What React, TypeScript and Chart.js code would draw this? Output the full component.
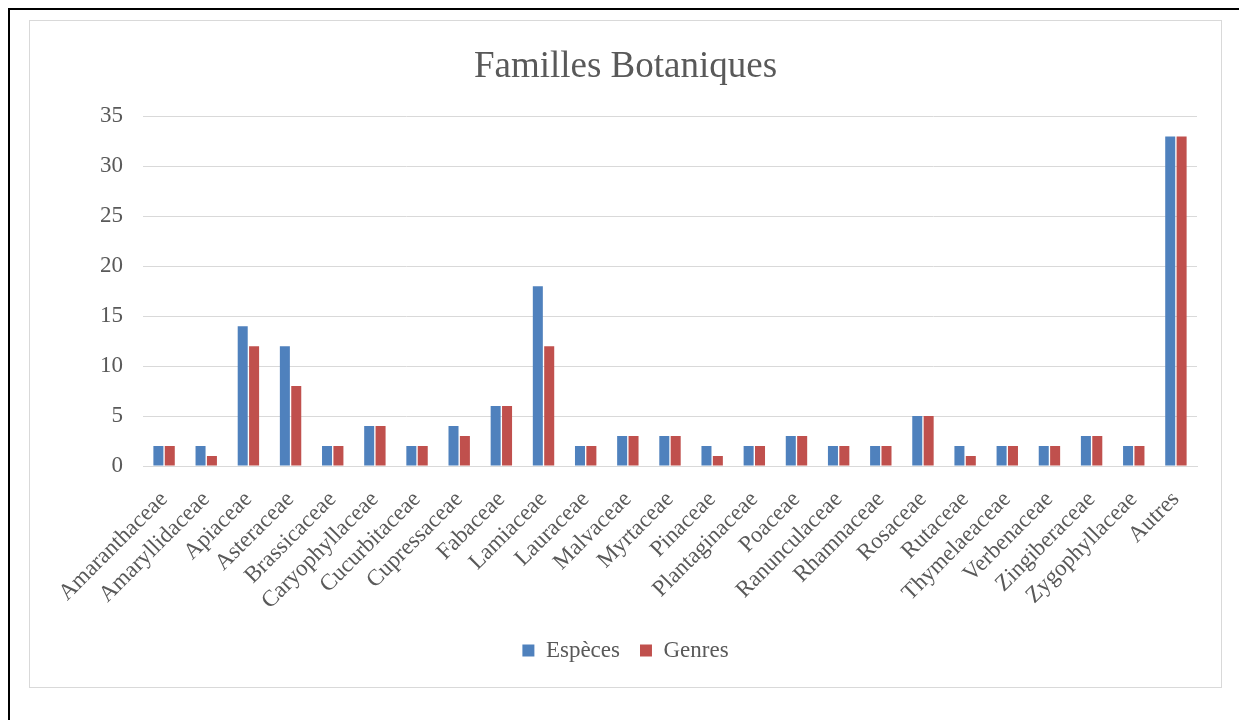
import React, { useEffect, useRef } from "react";
import { Chart, registerables } from "chart.js";

Chart.register(...registerables);

const categories = [
  "Amaranthaceae", "Amaryllidaceae", "Apiaceae", "Asteraceae", "Brassicaceae",
  "Caryophyllaceae", "Cucurbitaceae", "Cupressaceae", "Fabaceae", "Lamiaceae",
  "Lauraceae", "Malvaceae", "Myrtaceae", "Pinaceae", "Plantaginaceae",
  "Poaceae", "Ranunculaceae", "Rhamnaceae", "Rosaceae", "Rutaceae",
  "Thymelaeaceae", "Verbenaceae", "Zingiberaceae", "Zygophyllaceae", "Autres",
];
const especes = [2, 2, 14, 12, 2, 4, 2, 4, 6, 18, 2, 3, 3, 2, 2, 3, 2, 2, 5, 2, 2, 2, 3, 2, 33];
const genres = [2, 1, 12, 8, 2, 4, 2, 3, 6, 12, 2, 3, 3, 1, 2, 3, 2, 2, 5, 1, 2, 2, 3, 2, 33];
const yTicks = [0, 5, 10, 15, 20, 25, 30, 35];

const FONT = "'Liberation Serif', 'Times New Roman', serif";
const TXT = "#595959";

export default function App() {
  const ref = useRef<HTMLCanvasElement | null>(null);
  useEffect(() => {
    if (!ref.current) return;
    const chart = new Chart(ref.current, {
      type: "bar",
      data: {
        labels: categories,
        datasets: [
          { label: "Espèces", data: especes, backgroundColor: "#4F81BD", categoryPercentage: 0.54, barPercentage: 0.88 },
          { label: "Genres", data: genres, backgroundColor: "#C0504D", categoryPercentage: 0.54, barPercentage: 0.88 },
        ],
      },
      options: {
        responsive: false,
        animation: false,
        layout: { padding: { left: 24, right: 24, top: 0, bottom: 15 } },
        plugins: {
          title: {
            display: true,
            text: "Familles Botaniques",
            color: TXT,
            font: { family: FONT, size: 37, weight: "normal" },
            padding: { top: 24, bottom: 27 },
          },
          legend: {
            position: "bottom",
            labels: {
              color: TXT,
              font: { family: FONT, size: 23 },
              boxWidth: 12,
              boxHeight: 12,
              padding: 20,
            },
          },
          tooltip: { enabled: false },
        },
        scales: {
          x: {
            grid: { display: false },
            border: { color: "#d9d9d9", width: 1 },
            ticks: {
              color: TXT,
              font: { family: FONT, size: 23 },
              minRotation: 45,
              maxRotation: 45,
              autoSkip: false,
              padding: 12,
            },
            afterFit: (s: any) => { s.height = 153; },
          },
          y: {
            min: 0,
            max: 35,
            afterBuildTicks: (s: any) => { s.ticks = yTicks.map((v) => ({ value: v })); },
            grid: { color: "#d9d9d9", drawTicks: false },
            border: { display: false },
            ticks: {
              color: TXT,
              font: { family: FONT, size: 23 },
              padding: 20,
            },
            afterFit: (s: any) => { s.width = 89; },
          },
        },
      },
    });
    return () => chart.destroy();
  }, []);

  return (
    <div
      style={{
        position: "fixed",
        left: 8,
        top: 8,
        width: 1260,
        height: 740,
        border: "2px solid #000",
        boxSizing: "border-box",
        background: "#fff",
      }}
    >
      <div
        style={{
          position: "absolute",
          left: 19,
          top: 10,
          width: 1193,
          height: 668,
          border: "1px solid #d9d9d9",
          boxSizing: "border-box",
        }}
      >
        <canvas ref={ref} width={1191} height={666} style={{ display: "block", width: 1191, height: 666 }} />
      </div>
    </div>
  );
}
